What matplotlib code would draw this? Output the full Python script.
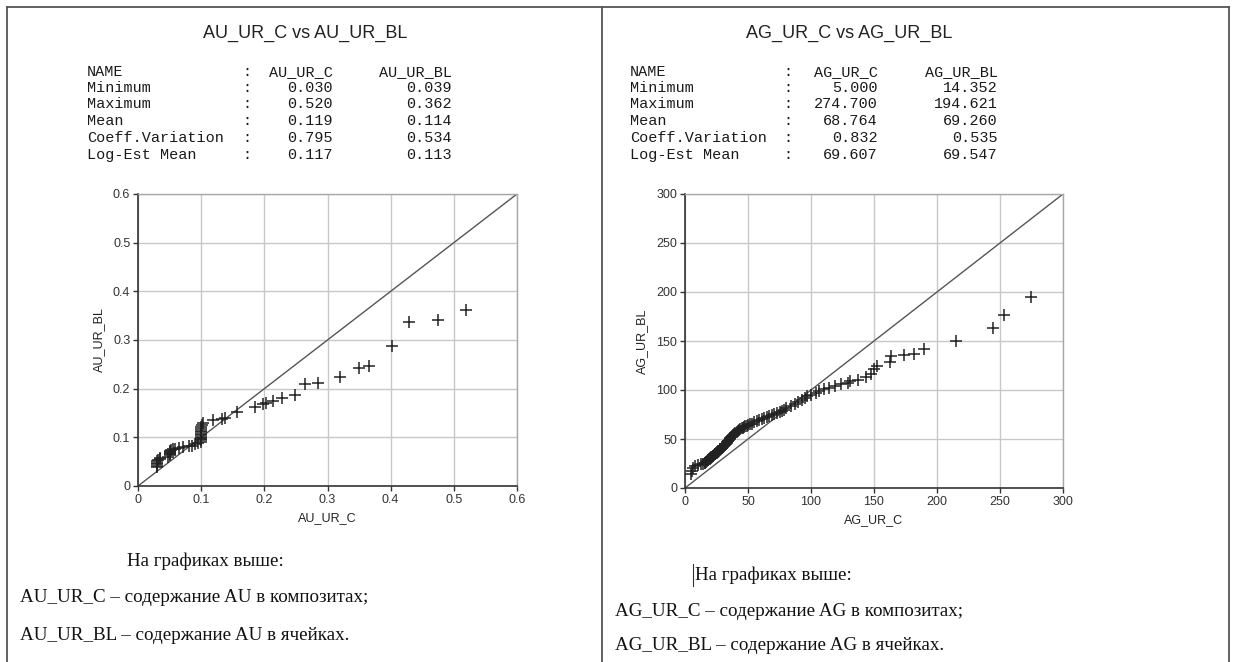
import matplotlib
matplotlib.use('Agg')
import matplotlib.pyplot as plt
from matplotlib.lines import Line2D

# --- data ---
stat_names = ['NAME', 'Minimum', 'Maximum', 'Mean', 'Coeff.Variation', 'Log-Est Mean']
au_c_stats = ['AU_UR_C', '0.030', '0.520', '0.119', '0.795', '0.117']
au_bl_stats = ['AU_UR_BL', '0.039', '0.362', '0.114', '0.534', '0.113']
ag_c_stats = ['AG_UR_C', '5.000', '274.700', '68.764', '0.832', '69.607']
ag_bl_stats = ['AG_UR_BL', '14.352', '194.621', '69.260', '0.535', '69.547']

au_c = [0.030, 0.030, 0.030, 0.030, 0.030, 0.032, 0.035, 0.035, 0.048, 0.050,
        0.050, 0.050, 0.050, 0.050, 0.052, 0.055, 0.058, 0.065, 0.072, 0.080,
        0.086, 0.090, 0.095, 0.100, 0.100, 0.100, 0.100, 0.100, 0.100, 0.100,
        0.100, 0.100, 0.100, 0.100, 0.101, 0.103, 0.118, 0.133, 0.138, 0.156,
        0.185, 0.198, 0.202, 0.214, 0.228, 0.248, 0.265, 0.285, 0.319, 0.350,
        0.366, 0.402, 0.429, 0.475, 0.520]
au_bl = [0.039, 0.042, 0.045, 0.048, 0.051, 0.053, 0.056, 0.058, 0.060, 0.063,
         0.066, 0.068, 0.070, 0.072, 0.074, 0.076, 0.077, 0.079, 0.080, 0.082,
         0.083, 0.086, 0.089, 0.091, 0.094, 0.096, 0.099, 0.101, 0.104, 0.107,
         0.110, 0.113, 0.117, 0.121, 0.125, 0.130, 0.135, 0.138, 0.140, 0.152,
         0.163, 0.168, 0.171, 0.175, 0.181, 0.188, 0.209, 0.211, 0.225, 0.243,
         0.247, 0.287, 0.336, 0.341, 0.362]

ag_c = [5.0, 5.5, 6.0, 8.0, 10.0, 12.5, 14.0, 15.5, 16.0, 17.0,
        17.5, 18.0, 18.5, 19.0, 19.5, 20.0, 20.5, 21.0, 21.5, 22.0,
        22.5, 23.0, 23.5, 24.0, 24.5, 25.0, 25.5, 26.0, 26.5, 27.0,
        27.5, 28.0, 28.5, 29.0, 29.5, 30.0, 30.5, 31.0, 31.5, 32.0,
        32.5, 33.0, 33.5, 34.0, 34.5, 35.0, 35.5, 36.0, 36.8, 37.5,
        38.2, 39.0, 40.0, 41.0, 42.0, 43.0, 44.0, 45.0, 46.0, 47.0,
        48.0, 49.0, 50.0, 51.5, 53.0, 55.0, 57.0, 59.0, 61.0, 63.0,
        65.0, 67.0, 69.0, 71.0, 73.0, 75.0, 77.0, 78.5, 80.0, 84.0,
        87.0, 90.0, 92.5, 95.0, 97.0, 100.0, 104.0, 106.0, 110.0, 114.0,
        119.0, 124.0, 129.0, 131.0, 137.0, 144.0, 148.0, 150.0, 152.5, 162.5,
        163.5, 174.0, 182.0, 190.0, 215.0, 244.5, 253.5, 274.7]
ag_bl = [14.4, 17.0, 20.0, 22.0, 23.0, 24.0, 24.8, 25.5, 26.0, 27.0,
         27.6, 28.2, 28.8, 29.3, 29.8, 30.3, 30.9, 31.4, 32.0, 32.5,
         33.1, 33.6, 34.2, 34.8, 35.3, 35.9, 36.4, 37.0, 37.5, 38.1,
         38.7, 39.3, 39.9, 40.5, 41.1, 41.8, 42.4, 43.1, 43.8, 44.5,
         45.2, 46.0, 46.8, 47.6, 48.4, 49.2, 50.0, 50.9, 52.0, 53.1,
         54.2, 55.3, 56.4, 57.4, 58.3, 59.2, 60.0, 60.8, 61.5, 62.2,
         62.9, 63.5, 64.1, 64.9, 65.8, 66.9, 68.0, 69.1, 70.2, 71.3,
         72.4, 73.5, 74.6, 75.6, 76.7, 77.8, 78.9, 80.0, 81.2, 83.6,
         85.8, 88.0, 89.9, 91.8, 93.4, 95.2, 97.3, 98.7, 100.6, 102.4,
         104.0, 105.8, 107.2, 109.0, 110.5, 113.2, 116.8, 121.0, 124.1, 128.2,
         134.4, 136.1, 136.8, 142.2, 149.7, 163.3, 176.2, 194.6]

au_ticks = [0, 0.1, 0.2, 0.3, 0.4, 0.5, 0.6]
au_ticklabels = ['0', '0.1', '0.2', '0.3', '0.4', '0.5', '0.6']
ag_ticks = [0, 50, 100, 150, 200, 250, 300]
ag_ticklabels = ['0', '50', '100', '150', '200', '250', '300']

au_notes = ['На графиках выше:',
            'AU_UR_C – содержание AU в композитах;',
            'AU_UR_BL – содержание AU в ячейках.']
ag_notes = ['На графиках выше:',
            'AG_UR_C – содержание AG в композитах;',
            'AG_UR_BL – содержание AG в ячейках.']

W, H = 1234, 662
SANS = 'Liberation Sans'
MONO = 'Liberation Mono'
SERIF = 'Liberation Serif'


def fx(x):
    return x / W


def fy(y):
    return 1 - y / H


fig = plt.figure(figsize=(W / 100, H / 100), dpi=100)
fig.patch.set_facecolor('white')

# page frame
frame = dict(color='#555555', lw=1.3)
fig.add_artist(Line2D([fx(7), fx(1229)], [fy(7), fy(7)], **frame))
fig.add_artist(Line2D([fx(7), fx(7)], [fy(7), 0], **frame))
fig.add_artist(Line2D([fx(602), fx(602)], [fy(7), 0], **frame))
fig.add_artist(Line2D([fx(1229), fx(1229)], [fy(7), 0], **frame))


def panel(rect, xs, ys, ticks, ticklabels, xlabel, ylabel, xl_pos, yl_pos):
    ax = fig.add_axes([fx(rect[0]), fy(rect[3]), (rect[2] - rect[0]) / W, (rect[3] - rect[1]) / H])
    lim = ticks[-1]
    ax.set_xlim(0, lim)
    ax.set_ylim(0, lim)
    ax.plot([0, lim], [0, lim], color='#555555', lw=1.0, zorder=2)
    ax.plot(xs, ys, linestyle='none', marker='+', markersize=9, markeredgewidth=1.1,
            color='#222222', zorder=3)
    ax.set_xticks(ticks)
    ax.set_yticks(ticks)
    ax.set_xticklabels(ticklabels, fontfamily=SANS, fontsize=9, color='#333333')
    ax.set_yticklabels(ticklabels, fontfamily=SANS, fontsize=9, color='#333333')
    ax.tick_params(direction='out', length=3.5, width=1, color='#333333', pad=2)
    ax.grid(True, color='#c8c8c8', lw=1.0)
    ax.set_axisbelow(True)
    for s in ['left', 'bottom']:
        ax.spines[s].set_color('#333333')
        ax.spines[s].set_linewidth(1.2)
    for s in ['top', 'right']:
        ax.spines[s].set_color('#a8a8a8')
        ax.spines[s].set_linewidth(1.0)
    ax.set_xlabel(xlabel, fontfamily=SANS, fontsize=9, color='#222222')
    ax.set_ylabel(ylabel, fontfamily=SANS, fontsize=9, color='#222222')
    ax.xaxis.set_label_coords(0.5, xl_pos)
    ax.yaxis.set_label_coords(yl_pos, 0.5)
    return ax


def stats_table(x_name, x_colon, x_c, x_bl, c_vals, bl_vals):
    baselines = [76, 92, 108.5, 125, 142, 159]
    for i, b in enumerate(baselines):
        kw = dict(fontfamily=MONO, fontsize=10.9, color='#1a1a1a', va='baseline')
        fig.text(fx(x_name), fy(b), stat_names[i], ha='left', **kw)
        fig.text(fx(x_colon), fy(b), ':', ha='center', **kw)
        fig.text(fx(x_c), fy(b), c_vals[i], ha='right', **kw)
        fig.text(fx(x_bl), fy(b), bl_vals[i], ha='right', **kw)


# titles
fig.text(fx(305), fy(38), 'AU_UR_C vs AU_UR_BL', ha='center', va='baseline',
         fontfamily=SANS, fontsize=13, color='#222222')
fig.text(fx(849), fy(38), 'AG_UR_C vs AG_UR_BL', ha='center', va='baseline',
         fontfamily=SANS, fontsize=13, color='#222222')

stats_table(87, 247, 333, 452, au_c_stats, au_bl_stats)
stats_table(630, 788, 878, 998, ag_c_stats, ag_bl_stats)

panel((138, 194, 517, 486), au_c, au_bl, au_ticks, au_ticklabels,
      'AU_UR_C', 'AU_UR_BL', -0.088, -0.088)
panel((685, 194, 1063, 488), ag_c, ag_bl, ag_ticks, ag_ticklabels,
      'AG_UR_C', 'AG_UR_BL', -0.088, -0.098)

# notes under the charts
note_kw = dict(fontfamily=SERIF, fontsize=13.7, color='#111111', va='center')
fig.text(fx(127), fy(561), au_notes[0], ha='left', **note_kw)
fig.text(fx(20), fy(598), au_notes[1], ha='left', **note_kw)
fig.text(fx(20), fy(635), au_notes[2], ha='left', **note_kw)

fig.text(fx(695), fy(575), ag_notes[0], ha='left', **note_kw)
fig.text(fx(615), fy(611), ag_notes[1], ha='left', **note_kw)
fig.text(fx(615), fy(646), ag_notes[2], ha='left', **note_kw)
# text cursor mark
fig.add_artist(Line2D([fx(693), fx(693)], [fy(564), fy(586)], color='#333333', lw=0.8))

fig.savefig('out.png', dpi=100)
